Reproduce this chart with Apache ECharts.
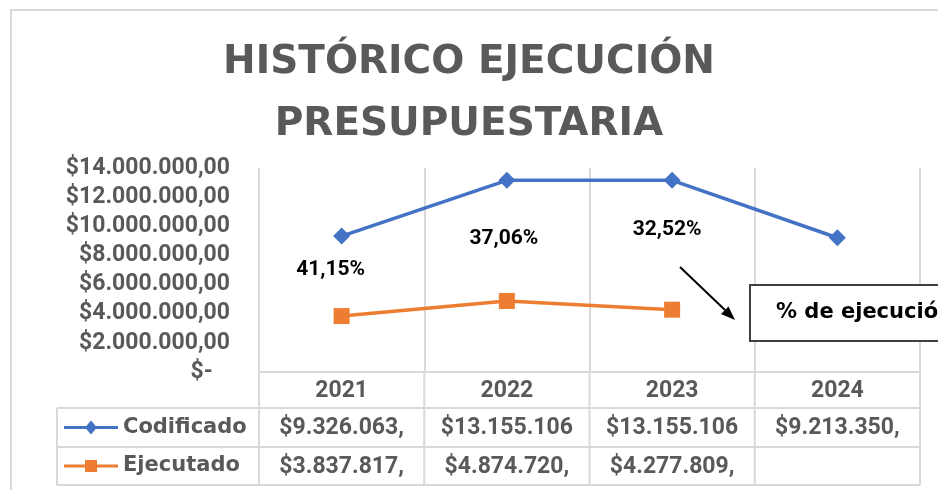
<!DOCTYPE html>
<html>
<head>
<meta charset="utf-8">
<script src="https://cdn.jsdelivr.net/npm/echarts@6/dist/echarts.min.js"></script>
<style>
  html, body { margin: 0; padding: 0; background: #fff; }
  #chart { width: 938px; height: 490px; }
</style>
</head>
<body>
<div id="chart"></div>
<script>
// data
const years = ['2021', '2022', '2023', '2024'];
const codificado = [9326063, 13155106, 13155106, 9213350];
const ejecutado = [3837817, 4874720, 4277809, null];
const yTicks = [0, 2000000, 4000000, 6000000, 8000000, 10000000, 12000000, 14000000];

// where the % labels sit (value units), a hand placed annotation in the original
const pctLabelY = [7000000, 9130000, 9750000];
const pctLabelDX = [-11, -3, -5];

const GRAY = '#595959';
const LINE = '#d9d9d9';
const NUM_FONT = 'Roboto';
const TXT_FONT = 'DejaVu Sans';

// plot box (px)
const plot = { left: 259, top: 168, right: 920, bottom: 372 };
const rowBottoms = [408, 447, 485];
const tableLeft = 57;

function money(v) {
  return '$' + String(Math.round(v)).replace(/\B(?=(\d{3})+(?!\d))/g, '.') + ',00';
}

function pct(i) {
  return (ejecutado[i] / codificado[i] * 100).toFixed(2).replace('.', ',') + '%';
}

// data table drawn under the axis, the way a spreadsheet shows it
function tableGraphics() {
  const g = [];
  const colW = (plot.right - plot.left) / years.length;
  const ln = (x1, y1, x2, y2) => ({
    type: 'line', silent: true,
    shape: { x1: x1, y1: y1, x2: x2, y2: y2 },
    style: { stroke: LINE, lineWidth: 2 }
  });

  g.push(ln(plot.left, rowBottoms[0], plot.right, rowBottoms[0]));
  g.push(ln(tableLeft, rowBottoms[0], tableLeft, rowBottoms[2]));
  g.push(ln(tableLeft, rowBottoms[0], plot.left, rowBottoms[0]));
  g.push(ln(tableLeft, rowBottoms[1], plot.right, rowBottoms[1]));
  g.push(ln(tableLeft, rowBottoms[2], plot.right, rowBottoms[2]));
  for (let i = 0; i <= years.length; i++) {
    const x = plot.left + i * colW;
    g.push(ln(x, plot.bottom, x, rowBottoms[2]));
  }

  const rows = [
    { name: 'Codificado', vals: codificado, color: '#4472C4', symbol: 'diamond' },
    { name: 'Ejecutado', vals: ejecutado, color: '#ED7D31', symbol: 'square' }
  ];
  rows.forEach((r, ri) => {
    const top = rowBottoms[ri];
    const cy = (top + rowBottoms[ri + 1]) / 2;
    // legend key
    g.push({ type: 'line', silent: true, shape: { x1: 64, y1: cy, x2: 118, y2: cy },
      style: { stroke: r.color, lineWidth: 3 } });
    if (r.symbol === 'diamond') {
      g.push({ type: 'polygon', silent: true,
        shape: { points: [[91, cy - 7], [97, cy], [91, cy + 7], [85, cy]] },
        style: { fill: r.color } });
    } else {
      g.push({ type: 'rect', silent: true, shape: { x: 85, y: cy - 6, width: 12, height: 12 },
        style: { fill: r.color } });
    }
    g.push({ type: 'text', silent: true, x: 123, y: cy,
      style: { text: r.name, fill: GRAY, font: 'bold 21px "' + TXT_FONT + '"',
        verticalAlign: 'middle', align: 'left' } });
    // cell values, clipped like narrow spreadsheet cells
    r.vals.forEach((v, i) => {
      if (v == null) return;
      g.push({ type: 'text', silent: true, x: plot.left + (i + 0.5) * colW, y: cy + 1,
        style: { text: money(v).slice(0, 11), fill: GRAY, font: 'bold 23px "' + NUM_FONT + '"',
          align: 'center', verticalAlign: 'middle' } });
    });
  });
  return g;
}

// arrow + "% de ejecución" box, sits above the grid lines
function calloutGraphics() {
  return [
    { type: 'line', silent: true, z: 100, shape: { x1: 680, y1: 267, x2: 725, y2: 310 },
      style: { stroke: '#000', lineWidth: 2 } },
    { type: 'polygon', silent: true, z: 100,
      shape: { points: [[735, 320], [721, 314], [728.5, 306.5]] },
      style: { fill: '#000' } },
    { type: 'rect', silent: true, z: 100, shape: { x: 750, y: 285, width: 220, height: 56 },
      style: { fill: '#fff', stroke: '#404040', lineWidth: 2 } },
    { type: 'text', silent: true, z: 101, x: 776, y: 313,
      style: { text: '% de ejecución', fill: '#000', font: 'bold 21px "' + TXT_FONT + '"',
        verticalAlign: 'middle', align: 'left' } }
  ];
}

const chart = echarts.init(document.getElementById('chart'));
chart.setOption({
  animation: false,
  backgroundColor: '#fff',
  title: {
    text: 'HISTÓRICO EJECUCIÓN\nPRESUPUESTARIA',
    left: 'center',
    top: 27,
    textStyle: { fontFamily: TXT_FONT, fontWeight: 'bold', fontSize: 39, lineHeight: 62, color: GRAY }
  },
  grid: {
    left: plot.left, top: plot.top,
    right: 938 - plot.right, bottom: 490 - plot.bottom,
    containLabel: false
  },
  xAxis: {
    type: 'category',
    data: years,
    boundaryGap: true,
    axisLine: { lineStyle: { color: LINE, width: 2 } },
    axisTick: { show: false },
    splitLine: { show: true, lineStyle: { color: LINE, width: 2 } },
    axisLabel: { margin: 8, color: GRAY, fontFamily: NUM_FONT, fontWeight: 'bold', fontSize: 23 }
  },
  yAxis: {
    type: 'value',
    min: yTicks[0],
    max: yTicks[yTicks.length - 1],
    interval: yTicks[1] - yTicks[0],
    axisLine: { show: false },
    axisTick: { show: false },
    splitLine: { show: false },
    axisLabel: {
      margin: 29, color: GRAY, fontFamily: NUM_FONT, fontWeight: 'bold', fontSize: 23,
      formatter: v => v === 0 ? '$-   ' : money(v)
    }
  },
  series: [
    {
      name: 'Codificado', type: 'line', data: codificado,
      symbol: 'diamond', symbolSize: 17,
      itemStyle: { color: '#4472C4' },
      lineStyle: { color: '#4472C4', width: 3.5 }
    },
    {
      name: 'Ejecutado', type: 'line', data: ejecutado,
      symbol: 'rect', symbolSize: 16,
      itemStyle: { color: '#ED7D31' },
      lineStyle: { color: '#ED7D31', width: 3.5 }
    },
    {
      name: '% ejecución', type: 'scatter', silent: true,
      data: pctLabelY.map((y, i) => ({
        value: y,
        label: { offset: [pctLabelDX[i], 0] }
      })),
      symbolSize: 0,
      itemStyle: { opacity: 1 },
      label: {
        show: true, position: 'inside', color: '#000',
        textBorderWidth: 0,
        fontFamily: NUM_FONT, fontWeight: 'bold', fontSize: 21,
        formatter: p => pct(p.dataIndex)
      }
    }
  ],
  graphic: [
    { type: 'rect', silent: true, shape: { x: 11, y: 10, width: 960, height: 520 },
      style: { fill: 'none', stroke: LINE, lineWidth: 2 } }
  ].concat(tableGraphics(), calloutGraphics())
});
</script>
</body>
</html>
